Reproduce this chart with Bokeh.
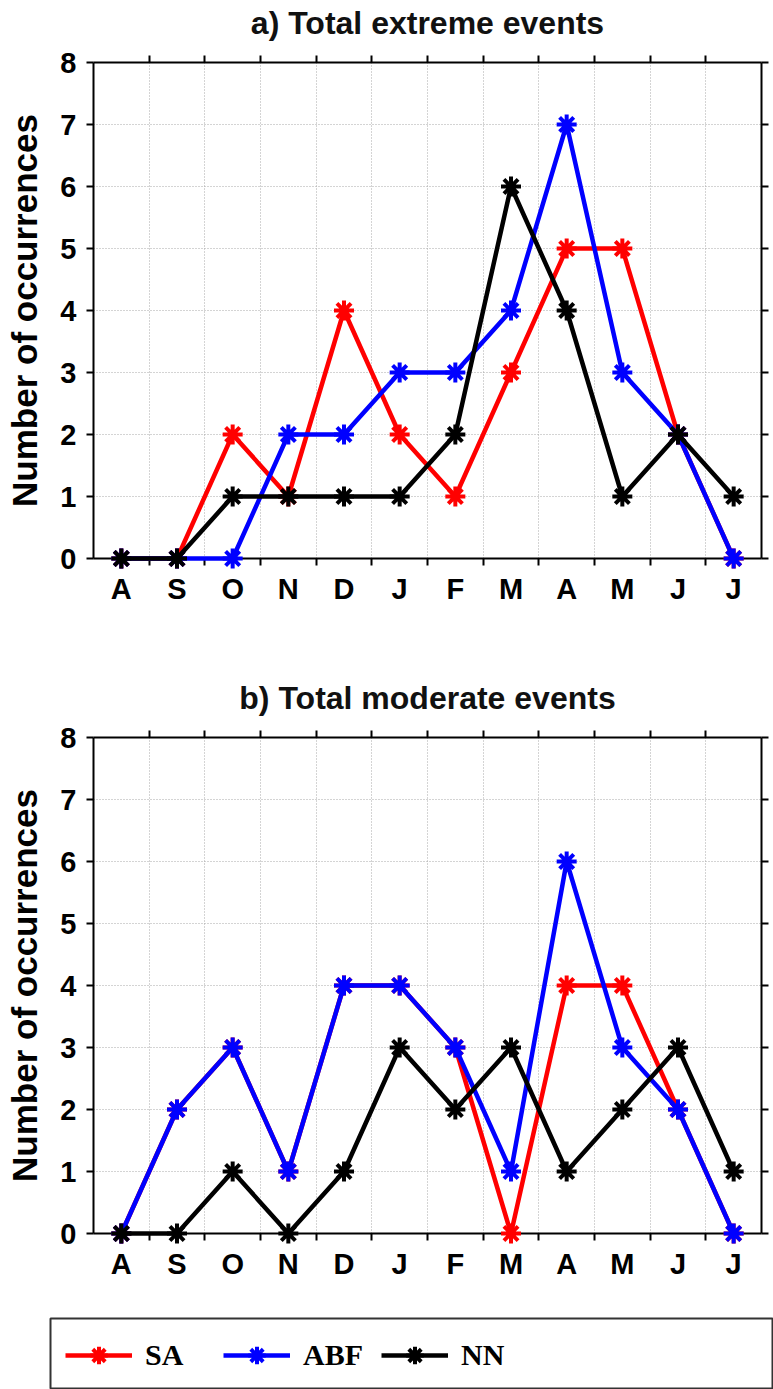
from bokeh.plotting import figure
from bokeh.layouts import column
from bokeh.models import (FixedTicker, LinearAxis, Range1d, Legend, LegendItem, Grid)
from bokeh.embed import file_html
from bokeh.resources import INLINE

# ---------------- data ----------------
months = ["A", "S", "O", "N", "D", "J", "F", "M", "A", "M", "J", "J"]
series_names = ["SA", "ABF", "NN"]

extreme_sa = [0, 0, 2, 1, 4, 2, 1, 3, 5, 5, 2, 0]
extreme_abf = [0, 0, 0, 2, 2, 3, 3, 4, 7, 3, 2, 0]
extreme_nn = [0, 0, 1, 1, 1, 1, 2, 6, 4, 1, 2, 1]

moderate_sa = [0, 2, 3, 1, 4, 4, 3, 0, 4, 4, 2, 0]
moderate_abf = [0, 2, 3, 1, 4, 4, 3, 1, 6, 3, 2, 0]
moderate_nn = [0, 0, 1, 0, 1, 3, 2, 3, 1, 2, 3, 1]

y_ticks = [0, 1, 2, 3, 4, 5, 6, 7, 8]
y_max = 8
title_a = "a) Total extreme events"
title_b = "b) Total moderate events"
y_label = "Number of occurrences"

colors = ["#ff0000", "#0000ff", "#000000"]
SANS = "Liberation Sans"
LINE_W = 4.5
MARK_SIZE = 20
MARK_W = 4


def make_panel(title_text, values, border_top, border_bottom):
    n = len(months)
    xs = list(range(n))
    bounds = [i + 0.5 for i in xs[:-1]]
    p = figure(frame_width=668, frame_height=496,
               min_border_left=93, min_border_right=12,
               min_border_top=border_top, min_border_bottom=border_bottom,
               x_range=Range1d(-0.5, n - 0.5), y_range=Range1d(0, y_max),
               x_axis_location=None, y_axis_location=None,
               toolbar_location=None, output_backend="svg",
               outline_line_color=None)
    p.center = []

    p.add_layout(Grid(dimension=0, ticker=FixedTicker(ticks=bounds),
                      grid_line_color="#a8a8a8", grid_line_dash="1 2",
                      grid_line_width=1))
    p.add_layout(Grid(dimension=1, ticker=FixedTicker(ticks=y_ticks[1:-1]),
                      grid_line_color="#a8a8a8", grid_line_dash="1 2",
                      grid_line_width=1))

    def xaxis(labels):
        ax = LinearAxis(ticker=FixedTicker(ticks=xs, minor_ticks=bounds),
                        major_tick_out=0, major_tick_in=0,
                        minor_tick_out=7, minor_tick_in=0,
                        minor_tick_line_width=2, minor_tick_line_color="black",
                        axis_line_width=2, axis_line_color="black")
        if labels:
            ax.major_label_overrides = {i: m for i, m in enumerate(months)}
            ax.major_label_text_font = SANS
            ax.major_label_text_font_style = "bold"
            ax.major_label_text_font_size = "29px"
            ax.major_label_text_color = "black"
            ax.major_label_standoff = 7
        else:
            ax.major_label_text_color = None
            ax.major_label_standoff = 0
            ax.axis_label = title_text
            ax.axis_label_text_font = SANS
            ax.axis_label_text_font_style = "bold"
            ax.axis_label_text_font_size = "32px"
            ax.axis_label_text_color = "#111111"
            ax.axis_label_standoff = 15
        return ax

    def yaxis(labels):
        ax = LinearAxis(ticker=FixedTicker(ticks=y_ticks),
                        major_tick_out=7, major_tick_in=0,
                        major_tick_line_width=2, major_tick_line_color="black",
                        axis_line_width=2, axis_line_color="black")
        if labels:
            ax.major_label_text_font = SANS
            ax.major_label_text_font_style = "bold"
            ax.major_label_text_font_size = "29px"
            ax.major_label_text_color = "black"
            ax.major_label_standoff = 10
            ax.axis_label = y_label
            ax.axis_label_text_font = SANS
            ax.axis_label_text_font_style = "bold"
            ax.axis_label_text_font_size = "35px"
            ax.axis_label_text_color = "black"
            ax.axis_label_standoff = 13
        else:
            ax.major_label_text_color = None
            ax.major_label_standoff = 0
        return ax

    p.add_layout(xaxis(True), "below")
    p.add_layout(xaxis(False), "above")
    p.add_layout(yaxis(True), "left")
    p.add_layout(yaxis(False), "right")

    for vals, col in zip(values, colors):
        p.line(xs, vals, line_color=col, line_width=LINE_W, level="overlay")
        p.scatter(xs, vals, marker="asterisk", size=MARK_SIZE, line_color=col,
                  line_width=MARK_W, level="overlay")
    return p


fig_a = make_panel(title_a, [extreme_sa, extreme_abf, extreme_nn], 62, 82)
fig_b = make_panel(title_b, [moderate_sa, moderate_abf, moderate_nn], 97, 50)

# ---- legend strip: its own small figure whose frame outline is the legend box ----
fig_c = figure(frame_width=723, frame_height=71,
               min_border_left=50, min_border_right=0,
               min_border_top=35, min_border_bottom=0,
               toolbar_location=None, output_backend="svg",
               x_axis_location=None, y_axis_location=None,
               x_range=Range1d(-0.5, len(months) - 0.5), y_range=Range1d(0, y_max),
               outline_line_color="#333333", outline_line_width=2)
fig_c.frame_align = False
fig_c.center = []
items = []
xs_all = list(range(len(months)))
for name, vals, col in zip(series_names, [moderate_sa, moderate_abf, moderate_nn], colors):
    ln = fig_c.line(xs_all, vals, line_color=col, line_width=LINE_W, visible=False)
    sc = fig_c.scatter(xs_all, vals, marker="asterisk", size=MARK_SIZE, line_color=col,
                       line_width=MARK_W, visible=False)
    items.append(LegendItem(label=name, renderers=[ln, sc]))

legend = Legend(items=items, orientation="horizontal", location=(15, 12), margin=0,
                glyph_width=67, glyph_height=44, label_height=44,
                label_width=72, spacing=6, label_standoff=13, padding=0,
                border_line_color=None, background_fill_alpha=0,
                label_text_font="Liberation Serif", label_text_font_style="bold",
                label_text_font_size="30px", label_text_color="black",
                inactive_fill_alpha=0)
fig_c.add_layout(legend)

layout = column(fig_a, fig_b, fig_c, spacing=0)
open("out.html", "w").write(file_html(layout, INLINE))
